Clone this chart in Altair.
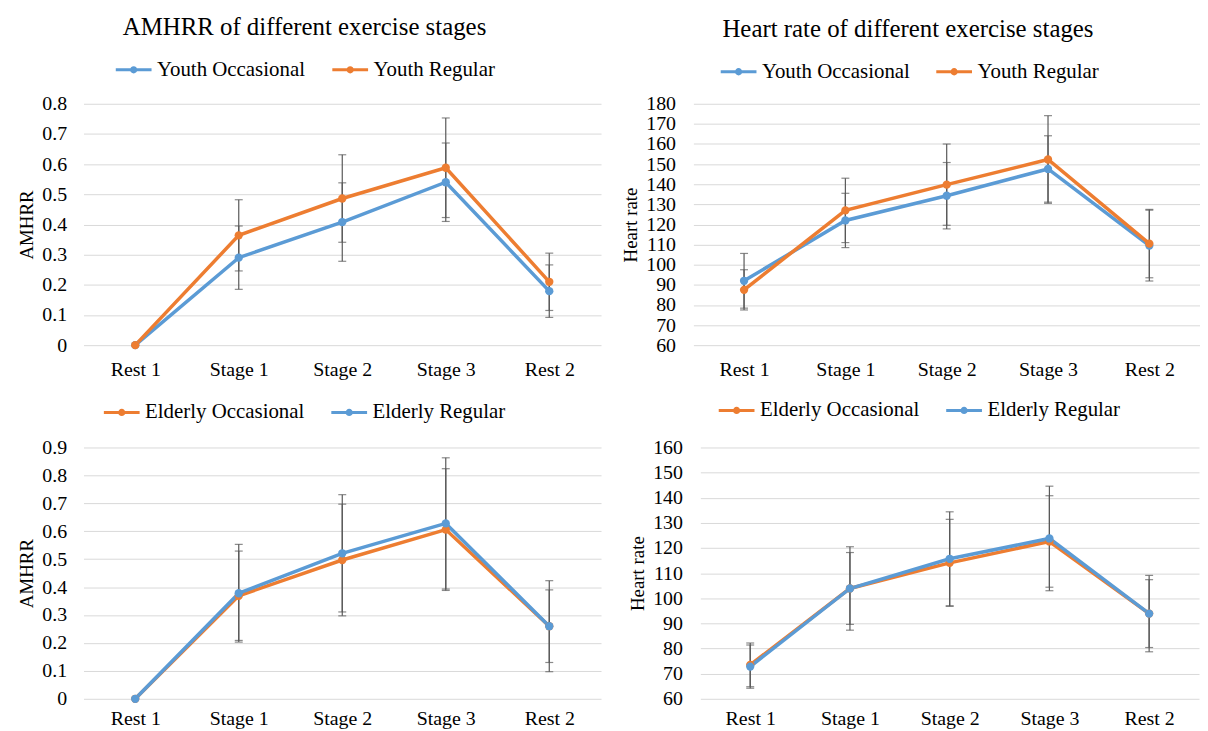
import altair as alt
import pandas as pd

# ---------------- data ----------------
stages = ["Rest 1", "Stage 1", "Stage 2", "Stage 3", "Rest 2"]

youth_names = ["Youth Occasional", "Youth Regular"]
elderly_names = ["Elderly Occasional", "Elderly Regular"]

# AMHRR, youth
yo_amhrr = [0, 0.29, 0.408, 0.54, 0.179]
yo_amhrr_err = [0, 0.105, 0.13, 0.13, 0.087]
yr_amhrr = [0, 0.364, 0.486, 0.588, 0.21]
yr_amhrr_err = [0, 0.118, 0.145, 0.165, 0.095]

# Heart rate, youth
yo_hr = [92, 122, 134.3, 147.6, 109.5]
yo_hr_err = [13.6, 13.5, 16.5, 16.5, 17.6]
yr_hr = [87.5, 127, 139.8, 152.3, 110.5]
yr_hr_err = [10, 16, 20.2, 21.8, 17]

# AMHRR, elderly
eo_amhrr = [0, 0.369, 0.497, 0.606, 0.26]
eo_amhrr_err = [0, 0.16, 0.2, 0.218, 0.13]
er_amhrr = [0, 0.378, 0.521, 0.628, 0.26]
er_amhrr_err = [0, 0.175, 0.21, 0.235, 0.163]

# Heart rate, elderly
eo_hr = [73.5, 103.9, 114.1, 122.6, 93.9]
eo_hr_err = [8.7, 14.3, 17.3, 18.2, 13.5]
er_hr = [72.8, 103.9, 115.7, 123.8, 93.9]
er_hr_err = [8.6, 16.6, 18.7, 20.8, 15.2]

amhrr_ticks_top = [0, 0.1, 0.2, 0.3, 0.4, 0.5, 0.6, 0.7, 0.8]
amhrr_ticks_bottom = [0, 0.1, 0.2, 0.3, 0.4, 0.5, 0.6, 0.7, 0.8, 0.9]
hr_ticks_top = list(range(60, 181, 10))
hr_ticks_bottom = list(range(60, 161, 10))

# ---------------- style ----------------
FONT = "Liberation Serif"
BLUE = "#5B9BD5"
ORANGE = "#ED7D31"
ERRC = "#595959"
GRID = "#D9D9D9"
TXT = "#000000"
SYMBOL = "M-1,0L1,0M0.12,0A0.12,0.12,0,1,1,-0.12,0A0.12,0.12,0,1,1,0.12,0"


def frame(names, vals, errs):
    rows = []
    for name, v, e in zip(names, vals, errs):
        for s, vv, ee in zip(stages, v, e):
            rows.append({"stage": s, "series": name, "value": vv, "err": ee})
    return pd.DataFrame(rows)


def panel(df, names, colors, ydomain, yvalues, yfmt, ytitle, width, height,
          lx, ly, colpad, lab_pad, xlab_pad, title=None, title_dx=0):
    x = alt.X("stage:N", sort=stages, title=None,
              scale=alt.Scale(type="point", padding=0.5),
              axis=alt.Axis(labelAngle=0, labelPadding=xlab_pad, ticks=False,
                            domain=False, grid=False, labelFont=FONT,
                            labelFontSize=20, labelColor=TXT))

    def ych(field):
        return alt.Y(field, title=ytitle,
                     scale=alt.Scale(domain=ydomain, nice=False, zero=False),
                     axis=alt.Axis(values=yvalues, format=yfmt, labelPadding=lab_pad,
                                   titlePadding=5, grid=True, domain=False, ticks=False,
                                   labelFont=FONT, labelFontSize=20, labelColor=TXT,
                                   titleFont=FONT, titleFontSize=19,
                                   titleFontWeight="normal", titleColor=TXT,
                                   gridColor=GRID, gridWidth=1))

    legend = alt.Legend(orient="none", legendX=lx, legendY=ly, direction="horizontal",
                        title=None, symbolType=SYMBOL, symbolSize=1296,
                        symbolStrokeWidth=3, labelFont=FONT, labelFontSize=21,
                        labelColor=TXT, labelOffset=4, labelLimit=400,
                        columnPadding=colpad, padding=0)
    color = alt.Color("series:N", scale=alt.Scale(domain=names, range=colors),
                      legend=legend)

    base = alt.Chart(df)
    line = base.mark_line(strokeWidth=3.5).encode(x=x, y=ych("value:Q"), color=color)
    eb = base.transform_filter("datum.err > 0").transform_calculate(
        lo="datum.value - datum.err", hi="datum.value + datum.err")
    rule = eb.mark_rule(color=ERRC, strokeWidth=1.2).encode(
        x=x, y=ych("lo:Q"), y2="hi:Q")
    cap_lo = eb.mark_tick(color=ERRC, size=8, thickness=1.2, orient="horizontal").encode(
        x=x, y=ych("lo:Q"))
    cap_hi = eb.mark_tick(color=ERRC, size=8, thickness=1.2, orient="horizontal").encode(
        x=x, y=ych("hi:Q"))
    pts = base.mark_point(filled=True, size=70, opacity=1).encode(
        x=x, y=ych("value:Q"), color=color)
    ch = alt.layer(line, rule, cap_lo, cap_hi, pts).properties(width=width, height=height)
    if title is not None:
        ch = ch.properties(title=alt.TitleParams(
            text=title, font=FONT, fontSize=25, fontWeight="normal", color=TXT,
            anchor="middle", offset=10, dx=title_dx))
    return ch


df_tl = frame(youth_names, [yo_amhrr, yr_amhrr], [yo_amhrr_err, yr_amhrr_err])
df_tr = frame(youth_names, [yo_hr, yr_hr], [yo_hr_err, yr_hr_err])
df_bl = frame(elderly_names, [eo_amhrr, er_amhrr], [eo_amhrr_err, er_amhrr_err])
df_br = frame(elderly_names, [eo_hr, er_hr], [eo_hr_err, er_hr_err])

tl = panel(df_tl, youth_names, [BLUE, ORANGE], [0, 0.8], amhrr_ticks_top, ".1~f",
           "AMHRR", 521, 243, 31, -54, 21, 17, 15,
           "AMHRR of different exercise stages", -38)
tr = panel(df_tr, youth_names, [BLUE, ORANGE], [60, 180], hr_ticks_top, "d",
           "Heart rate", 510, 243, 26, -52, 20, 18, 15,
           "Heart rate of different exercise stages", -39)
bl = panel(df_bl, elderly_names, [ORANGE, BLUE], [0, 0.9], amhrr_ticks_bottom, ".1~f",
           "AMHRR", 521, 253, 19, -55, 20, 17, 10)
br = panel(df_br, elderly_names, [ORANGE, BLUE], [60, 160], hr_ticks_bottom, "d",
           "Heart rate", 502, 253, 17, -57, 20, 18, 10)


def indep(c):
    return c.resolve_scale(x="independent", y="independent", color="independent") \
            .resolve_legend(color="independent").resolve_axis(x="independent", y="independent")


top = indep(alt.hconcat(tl, tr, spacing=93, bounds="flush"))
bottom = indep(alt.hconcat(bl, br, spacing=100, bounds="flush"))

chart = indep(alt.vconcat(top, bottom, spacing=11)).properties(
    padding={"left": 10, "top": 5, "right": 0, "bottom": 0},
    background="white"
).configure_view(stroke=None)

chart.save("out.html", embed_options={"renderer": "svg", "actions": False})
